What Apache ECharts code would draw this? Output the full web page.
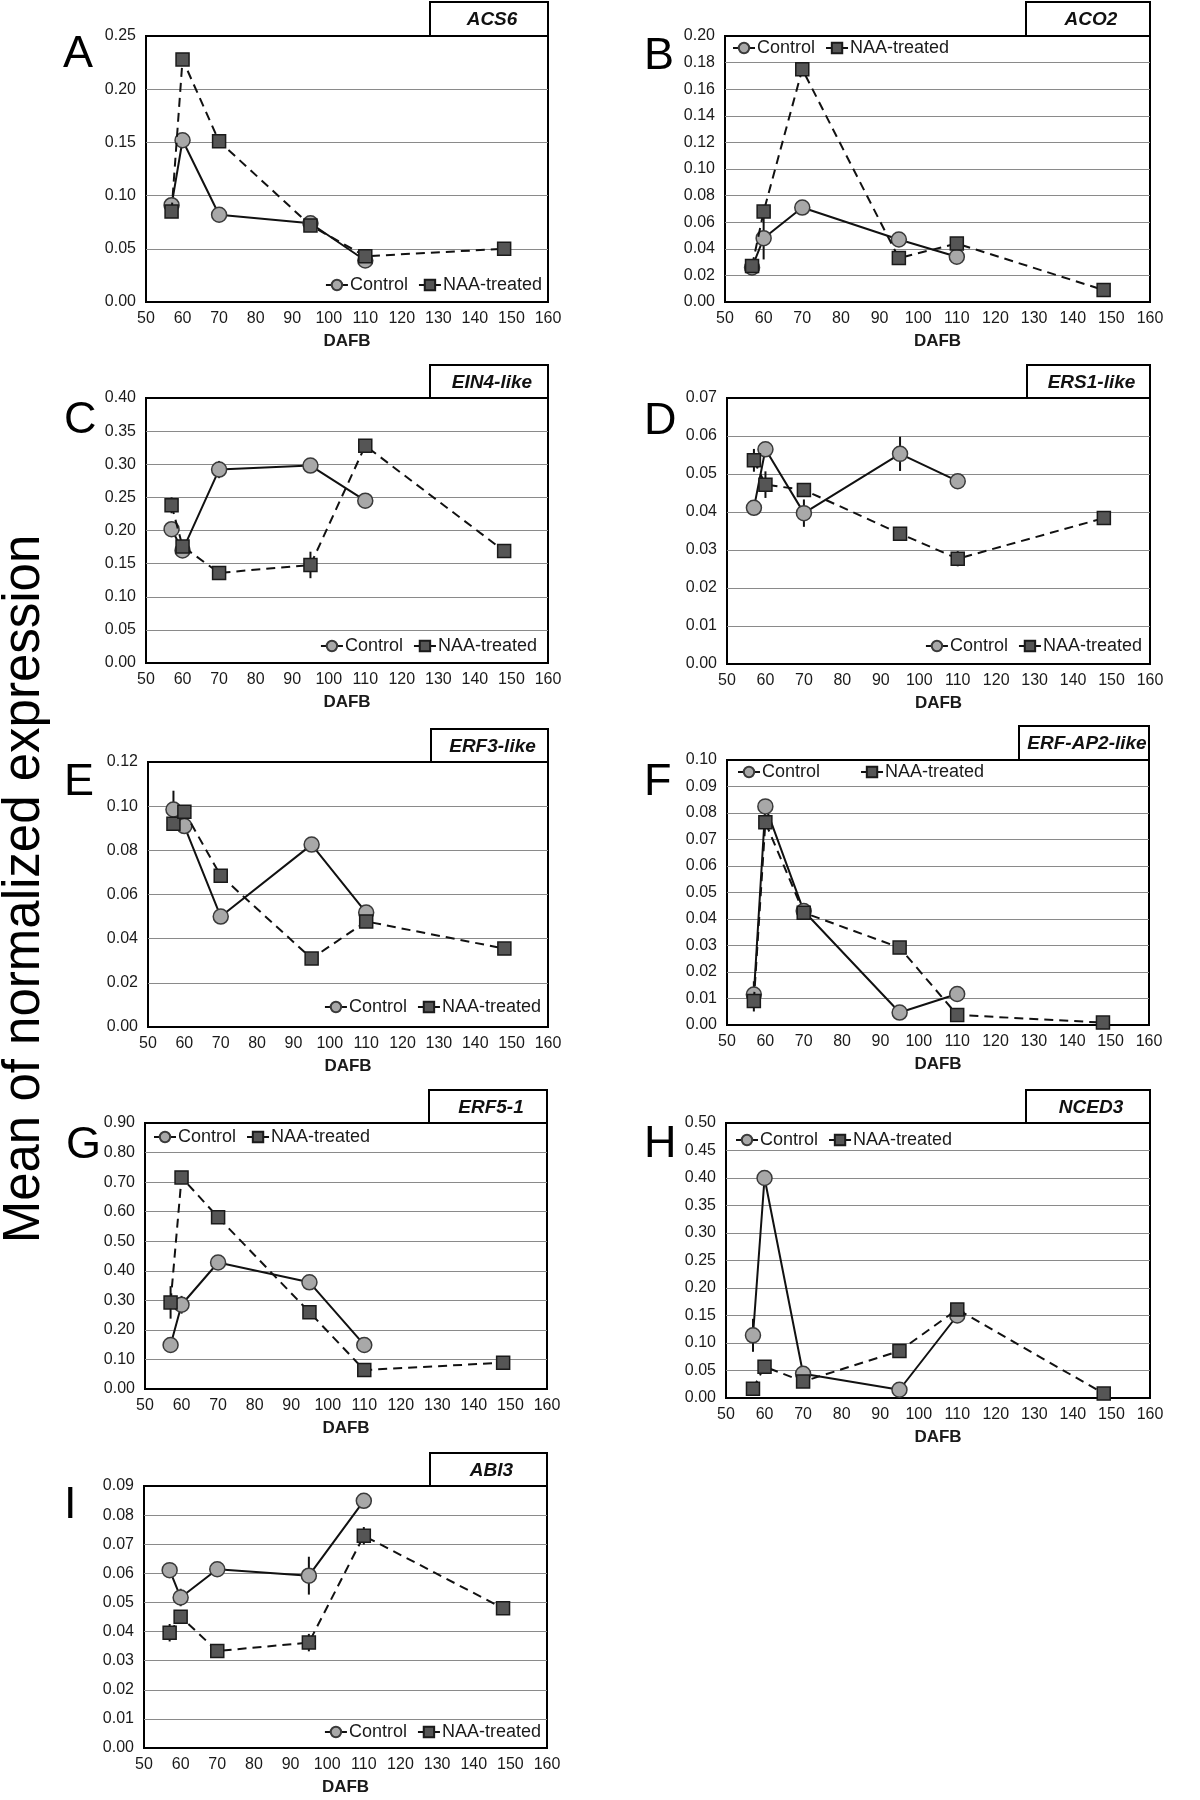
<!DOCTYPE html>
<html>
<head>
<meta charset="utf-8">
<script src="https://cdn.jsdelivr.net/npm/echarts@6/dist/echarts.min.js"></script>
<style>
html,body{margin:0;padding:0;background:#fff;}
#chart{width:1200px;height:1800px;}
</style>
</head>
<body>
<div id="chart"></div>
<script>
// ---------- DATA ----------
const dafbControl = [57, 60, 70, 95, 110];
const dafbNAA = [57, 60, 70, 95, 110, 148];
const xTicks = [50, 60, 70, 80, 90, 100, 110, 120, 130, 140, 150, 160];
const seriesNames = ['Control', 'NAA-treated'];
const geneNames = ['ACS6', 'ACO2', 'EIN4-like', 'ERS1-like', 'ERF3-like', 'ERF-AP2-like', 'ERF5-1', 'NCED3', 'ABI3'];
const panelLetters = ['A', 'B', 'C', 'D', 'E', 'F', 'G', 'H', 'I'];
const yMax = [0.25, 0.20, 0.40, 0.07, 0.12, 0.10, 0.90, 0.50, 0.09];
const yStep = [0.05, 0.02, 0.05, 0.01, 0.02, 0.01, 0.10, 0.05, 0.01];

const acs6Control = [0.091, 0.152, 0.082, 0.074, 0.039];
const acs6ControlErr = [0.003, 0.004, 0.002, 0.002, 0.003];
const acs6NAA = [0.085, 0.228, 0.151, 0.072, 0.043, 0.050];
const acs6NAAErr = [0.003, 0.003, 0.003, 0.003, 0.002, 0.002];

const aco2Control = [0.026, 0.048, 0.071, 0.047, 0.034];
const aco2ControlErr = [0.002, 0.016, 0.003, 0.002, 0.002];
const aco2NAA = [0.027, 0.068, 0.175, 0.033, 0.044, 0.009];
const aco2NAAErr = [0.002, 0.005, 0.003, 0.002, 0.002, 0.001];

const ein4Control = [0.202, 0.170, 0.292, 0.298, 0.245];
const ein4ControlErr = [0.005, 0.005, 0.013, 0.004, 0.004];
const ein4NAA = [0.238, 0.176, 0.136, 0.148, 0.328, 0.169];
const ein4NAAErr = [0.012, 0.005, 0.010, 0.020, 0.009, 0.003];

const ers1Control = [0.0411, 0.0565, 0.0397, 0.0553, 0.0481];
const ers1ControlErr = [0.002, 0.0015, 0.0036, 0.0045, 0.0005];
const ers1NAA = [0.0536, 0.0472, 0.0458, 0.0343, 0.0277, 0.0384];
const ers1NAAErr = [0.003, 0.0035, 0.0005, 0.0005, 0.002, 0.0005];

const erf3Control = [0.0985, 0.091, 0.050, 0.0826, 0.0518];
const erf3ControlErr = [0.0085, 0.003, 0.002, 0.001, 0.001];
const erf3NAA = [0.092, 0.0975, 0.0685, 0.031, 0.0478, 0.0355];
const erf3NAAErr = [0.002, 0.002, 0.001, 0.001, 0.001, 0.001];

const erfap2Control = [0.0115, 0.0825, 0.043, 0.0047, 0.0117];
const erfap2ControlErr = [0.005, 0.001, 0.001, 0.0005, 0.0005];
const erfap2NAA = [0.0091, 0.0765, 0.0424, 0.0292, 0.0038, 0.0009];
const erfap2NAAErr = [0.004, 0.001, 0.001, 0.0005, 0.0005, 0.0003];

const erf51Control = [0.149, 0.285, 0.428, 0.361, 0.149];
const erf51ControlErr = [0.01, 0.03, 0.02, 0.01, 0.01];
const erf51NAA = [0.293, 0.716, 0.581, 0.260, 0.064, 0.089];
const erf51NAAErr = [0.055, 0.01, 0.01, 0.01, 0.01, 0.005];

const nced3Control = [0.114, 0.400, 0.044, 0.015, 0.150];
const nced3ControlErr = [0.030, 0.005, 0.005, 0.003, 0.005];
const nced3NAA = [0.017, 0.057, 0.030, 0.0855, 0.161, 0.008];
const nced3NAAErr = [0.003, 0.005, 0.003, 0.003, 0.004, 0.002];

const abi3Control = [0.0611, 0.0517, 0.0614, 0.0592, 0.0849];
const abi3ControlErr = [0.001, 0.003, 0.0025, 0.0065, 0.001];
const abi3NAA = [0.0396, 0.0451, 0.0333, 0.0362, 0.0729, 0.048];
const abi3NAAErr = [0.003, 0.001, 0.001, 0.003, 0.003, 0.001];

const controlValues = [acs6Control, aco2Control, ein4Control, ers1Control, erf3Control, erfap2Control, erf51Control, nced3Control, abi3Control];
const controlErrors = [acs6ControlErr, aco2ControlErr, ein4ControlErr, ers1ControlErr, erf3ControlErr, erfap2ControlErr, erf51ControlErr, nced3ControlErr, abi3ControlErr];
const naaValues = [acs6NAA, aco2NAA, ein4NAA, ers1NAA, erf3NAA, erfap2NAA, erf51NAA, nced3NAA, abi3NAA];
const naaErrors = [acs6NAAErr, aco2NAAErr, ein4NAAErr, ers1NAAErr, erf3NAAErr, erfap2NAAErr, erf51NAAErr, nced3NAAErr, abi3NAAErr];

// ---------- LAYOUT ----------
const layout = [
  {grid: [146, 36, 548, 302], box: [430, 2], letter: [63, 55], legend: {right: 658, top: 276}},
  {grid: [725, 36, 1150, 302], box: [1026, 2], letter: [644, 57], legend: {left: 732, top: 39}},
  {grid: [146, 398, 548, 663], box: [430, 365], letter: [64, 421], legend: {right: 663, top: 637}},
  {grid: [727, 398, 1150, 664], box: [1027, 365], letter: [644, 422], legend: {right: 58, top: 637}},
  {grid: [148, 762, 548, 1027], box: [431, 729], letter: [64, 783], legend: {right: 659, top: 998}},
  {grid: [727, 760, 1149, 1025], box: [1019, 726], letter: [644, 783], legend: {left: 737, top: 763, gap: 40}},
  {grid: [145, 1123, 547, 1389], box: [429, 1090], letter: [66, 1146], legend: {left: 153, top: 1128}},
  {grid: [726, 1123, 1150, 1398], box: [1026, 1090], letter: [644, 1145], legend: {left: 735, top: 1131}},
  {grid: [144, 1486, 547, 1748], box: [430, 1453], letter: [64, 1506], legend: {right: 659, top: 1723}}
];

const FONT = "'Liberation Sans', Arial, sans-serif";
const TXT = '#1a1a1a';

function errRender(params, api) {
  const x = api.value(0), y = api.value(1), e = api.value(2);
  if (!e) return null;
  const p1 = api.coord([x, y - e]);
  const p2 = api.coord([x, y + e]);
  return {
    type: 'line',
    shape: {x1: p1[0], y1: p1[1], x2: p2[0], y2: p2[1]},
    style: {stroke: '#111', lineWidth: 2}
  };
}

const grids = [], xAxes = [], yAxes = [], series = [], legends = [], graphics = [];

layout.forEach((L, i) => {
  const [gl, gt, gr, gb] = L.grid;
  grids.push({
    left: gl, top: gt, width: gr - gl, height: gb - gt,
    show: true, borderColor: '#000', borderWidth: 2, backgroundColor: '#fff'
  });
  xAxes.push({
    type: 'value', gridIndex: i, min: xTicks[0], max: xTicks[xTicks.length - 1], interval: 10,
    axisLine: {show: false}, axisTick: {show: false}, splitLine: {show: false},
    axisLabel: {fontFamily: FONT, fontSize: 16, color: TXT, margin: 9},
    name: 'DAFB', nameLocation: 'middle', nameGap: 31,
    nameTextStyle: {fontFamily: FONT, fontSize: 17, fontWeight: 'bold', color: TXT}
  });
  yAxes.push({
    type: 'value', gridIndex: i, min: 0, max: yMax[i], interval: yStep[i],
    axisLine: {show: false}, axisTick: {show: false},
    splitLine: {show: true, showMinLine: false, showMaxLine: false, lineStyle: {color: '#8a8a8a', width: 1}},
    axisLabel: {fontFamily: FONT, fontSize: 16, color: TXT, margin: 10, formatter: v => v.toFixed(2)}
  });

  const ctrlData = dafbControl.map((x, k) => [x, controlValues[i][k]]);
  const naaData = dafbNAA.map((x, k) => [x, naaValues[i][k]]);
  const ctrlErr = dafbControl.map((x, k) => [x, controlValues[i][k], controlErrors[i][k]]);
  const naaErr = dafbNAA.map((x, k) => [x, naaValues[i][k], naaErrors[i][k]]);

  series.push({
    type: 'custom', name: 'errC' + i, xAxisIndex: i, yAxisIndex: i, renderItem: errRender,
    data: ctrlErr, encode: {x: 0, y: 1}, z: 2, silent: true
  });
  series.push({
    type: 'custom', name: 'errN' + i, xAxisIndex: i, yAxisIndex: i, renderItem: errRender,
    data: naaErr, encode: {x: 0, y: 1}, z: 2, silent: true
  });
  series.push({
    type: 'line', name: seriesNames[0], xAxisIndex: i, yAxisIndex: i, data: ctrlData,
    symbol: 'circle', symbolSize: 15, z: 3,
    lineStyle: {color: '#111', width: 2, type: 'solid'},
    itemStyle: {color: '#a8a8a8', borderColor: '#3a3a3a', borderWidth: 1.5},
    animation: false
  });
  series.push({
    type: 'line', name: seriesNames[1], xAxisIndex: i, yAxisIndex: i, data: naaData,
    symbol: 'rect', symbolSize: 13, z: 4,
    lineStyle: {color: '#111', width: 2, type: [9, 6]},
    itemStyle: {color: '#555555', borderColor: '#1a1a1a', borderWidth: 1.5},
    animation: false
  });

  const lg = {
    data: seriesNames, orient: 'horizontal', padding: 0,
    itemWidth: 22, itemHeight: 13, itemGap: L.legend.gap || 10,
    textStyle: {fontFamily: FONT, fontSize: 18, color: TXT, padding: [0, 0, 0, -3]},
    selectedMode: false, top: L.legend.top
  };
  if (L.legend.left !== undefined) lg.left = L.legend.left; else lg.right = L.legend.right;
  legends.push(lg);

  graphics.push({
    type: 'rect', shape: {x: L.box[0], y: L.box[1], width: gr - L.box[0], height: gt - L.box[1]},
    style: {fill: '#fff', stroke: '#000', lineWidth: 2}, z: 10
  });
  graphics.push({
    type: 'text', x: (L.box[0] + gr) / 2 + 3, y: (L.box[1] + gt) / 2 + 1,
    style: {text: geneNames[i], font: "italic bold 19px " + FONT, fill: '#111', textAlign: 'center', textVerticalAlign: 'middle'},
    z: 11
  });
  graphics.push({
    type: 'text', x: L.letter[0], y: L.letter[1],
    style: {text: panelLetters[i], font: "45px " + FONT, fill: '#000', textAlign: 'left', textVerticalAlign: 'middle'},
    z: 11
  });
});

graphics.push({
  type: 'text', x: 25, y: 889, rotation: Math.PI / 2,
  style: {text: 'Mean of normalized expression', font: "51px " + FONT, fill: '#000', textAlign: 'center', textVerticalAlign: 'middle'},
  z: 11
});

const chart = echarts.init(document.getElementById('chart'), null, {renderer: 'canvas'});
chart.setOption({
  backgroundColor: '#fff',
  animation: false,
  textStyle: {fontFamily: FONT},
  grid: grids, xAxis: xAxes, yAxis: yAxes, series: series, legend: legends,
  graphic: graphics
});
</script>
</body>
</html>
